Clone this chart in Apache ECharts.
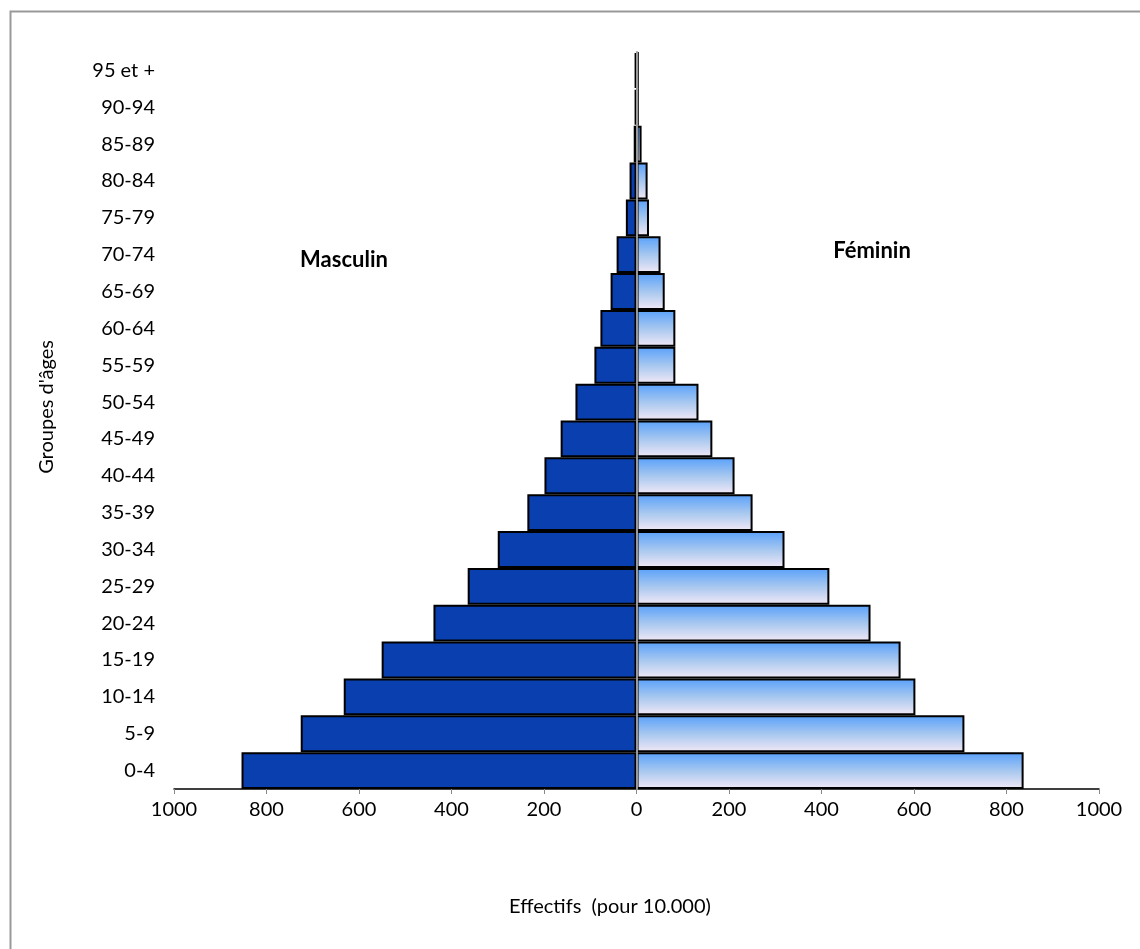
<!DOCTYPE html>
<html>
<head>
<meta charset="utf-8">
<script src="https://cdn.jsdelivr.net/npm/echarts@6/dist/echarts.min.js"></script>
<style>
html,body{margin:0;padding:0;background:#fff;}
#chart{width:1140px;height:949px;}
</style>
</head>
<body>
<div id="chart"></div>
<script>
const categories = ['0-4','5-9','10-14','15-19','20-24','25-29','30-34','35-39','40-44','45-49','50-54','55-59','60-64','65-69','70-74','75-79','80-84','85-89','90-94','95 et +'];
const maleValues = [854, 726, 633, 551, 439, 365, 300, 236, 199, 164, 132, 91, 78, 56, 43, 23, 15, 6, 4, 4];
const femaleValues = [837, 709, 603, 571, 506, 417, 320, 251, 212, 164, 134, 84, 84, 61, 52, 27, 24, 11, 5, 5];
const xTicks = [-1000, 1000, 200];

const FONT = 'Lato';
const chart = echarts.init(document.getElementById('chart'), null, {renderer: 'canvas'});
const femaleGrad = new echarts.graphic.LinearGradient(0, 0, 0, 1, [
  {offset: 0, color: '#58a0fb'},
  {offset: 0.5, color: '#a6c7ef'},
  {offset: 1, color: '#f3e9f6'}
]);
chart.setOption({
  animation: false,
  backgroundColor: '#fff',
  textStyle: {fontFamily: FONT},
  grid: {left: 174, right: 41, top: 52, bottom: 160, containLabel: false},
  xAxis: {
    type: 'value', min: xTicks[0], max: xTicks[1], interval: xTicks[2],
    axisLine: {show: true, onZero: false, lineStyle: {color: '#000', width: 1.5}},
    axisTick: {show: true, length: 5, lineStyle: {color: '#888'}},
    splitLine: {show: false},
    axisLabel: {color: '#000', fontSize: 20, margin: 11, formatter: v => Math.abs(v)}
  },
  yAxis: [{
    type: 'category', data: categories,
    axisLine: {show: false, onZero: false},
    axisTick: {show: false},
    axisLabel: {color: '#000', fontSize: 20, margin: 19}
  }, {
    type: 'category', data: categories, position: 'left', z: 10,
    axisLine: {show: true, onZero: true, lineStyle: {color: '#999', width: 2}},
    axisTick: {show: false}, axisLabel: {show: false}
  }],
  series: [{
    name: 'Masculin', type: 'bar', yAxisIndex: 0,
    data: maleValues.map(v => -v),
    barGap: '-100%', barCategoryGap: 0,
    itemStyle: {color: '#0a3fb0', borderColor: '#000', borderWidth: 2}
  }, {
    name: 'Féminin', type: 'bar', yAxisIndex: 0,
    data: femaleValues,
    barGap: '-100%', barCategoryGap: 0,
    itemStyle: {color: femaleGrad, borderColor: '#000', borderWidth: 2}
  }],
  graphic: [
    {type: 'rect', shape: {x: 10.5, y: 11.5, width: 1200, height: 1000}, style: {fill: 'none', stroke: '#999', lineWidth: 2}, silent: true},
    {type: 'text', x: 344, y: 260, style: {text: 'Masculin', font: 'bold 22px ' + FONT, fill: '#000', textAlign: 'center', textVerticalAlign: 'middle'}},
    {type: 'text', x: 872, y: 251, style: {text: 'Féminin', font: 'bold 22px ' + FONT, fill: '#000', textAlign: 'center', textVerticalAlign: 'middle'}},
    {type: 'text', x: 610, y: 907, style: {text: 'Effectifs  (pour 10.000)', font: '20px ' + FONT, fill: '#000', textAlign: 'center', textVerticalAlign: 'middle'}},
    {type: 'text', x: 47, y: 407, rotation: Math.PI / 2, style: {text: "Groupes d'âges", font: '20px ' + FONT, fill: '#000', textAlign: 'center', textVerticalAlign: 'middle'}}
  ]
});
</script>
</body>
</html>
